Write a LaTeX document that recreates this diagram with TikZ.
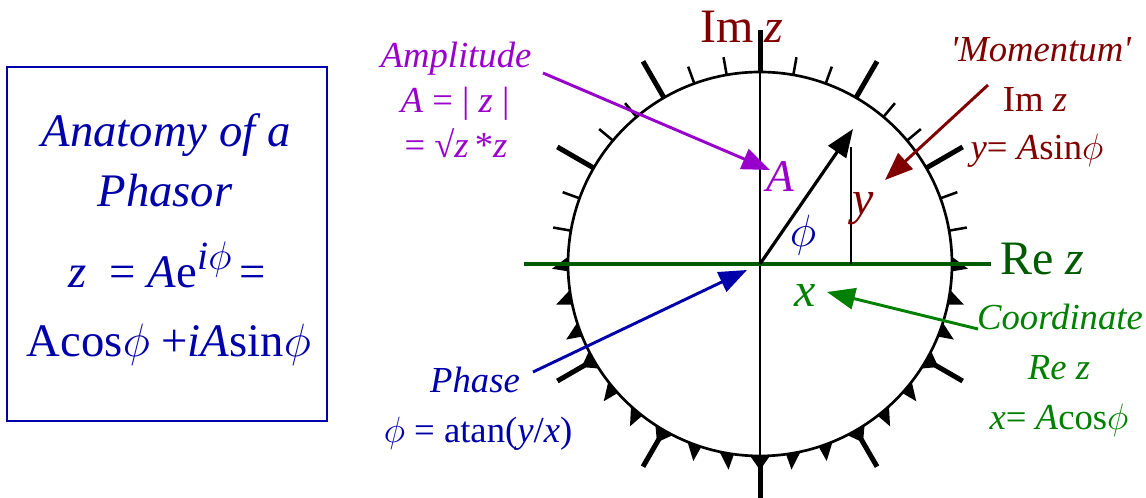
\RequirePackage{fix-cm}
\documentclass[tikz,border=0pt]{standalone}
\usepackage{fontspec}
\setmainfont{Liberation Serif}[ItalicFont={Liberation Serif Italic}, BoldFont={Liberation Serif Bold}]
\usetikzlibrary{arrows.meta,calc}
\definecolor{cblue}{RGB}{0,0,170}
\definecolor{cpurple}{RGB}{153,0,204}
\definecolor{cred}{RGB}{128,0,0}
\definecolor{cgreen}{RGB}{0,128,0}
\definecolor{caxis}{RGB}{0,90,0}
\begin{document}
\begin{tikzpicture}[x=0.75pt,y=-0.75pt,
  lbl/.style={inner sep=0pt, anchor=base, font=\fontsize{27.5}{30}\selectfont},
  big/.style={inner sep=0pt, anchor=base, font=\fontsize{36}{40}\selectfont},
  boxtxt/.style={inner sep=0pt, anchor=base, text=cblue, font=\fontsize{35}{40}\selectfont},
  pointer/.style={line width=2.2pt, -{Triangle[length=21pt,width=16pt]}},
  thintick/.style={line width=1.9pt},
  thicktick/.style={line width=3.75pt},
]
\useasboundingbox (0,0) rectangle (1146,498);
\def\R{192}
\coordinate (O) at (760,264);

% left box
\draw[cblue, line width=1.5pt] (7,67) rectangle (327,421);
\node[boxtxt] (t1) at (166,147) {\textit{Anatomy of a}};
\node[boxtxt] (t2) at (165,207) {\textit{Phasor}};
\node[boxtxt] (t3) at (167,288) {\textit{z}\ \ = \textit{A}e\raisebox{0.4em}{\fontsize{30}{30}\selectfont\textit{i}$\phi$}\,=};
\node[boxtxt] (t4) at (169,357) {Acos$\phi$ +\textit{iA}sin$\phi$};

% circle
\draw[line width=2pt] (O) circle[radius=\R];

% upper ticks
\foreach \t in {10,20,40,50,70,80,100,110,130,140,160,170}
  \draw[thintick] ($(O)+(-\t:\R)$) -- ($(O)+(-\t:{\R+18})$);
\foreach \t in {30,60,90,120,150}
  \draw[thicktick] ($(O)+(-\t:\R)$) -- ($(O)+(-\t:{\R+42})$);

% lower teeth
\foreach \t in {180,190,200,220,230,250,260}
  \fill ($(O)+({-(\t-2.2)}:\R)$) -- ($(O)+({-(\t+2.2)}:\R)$) -- ($(O)+({-(\t+1.3)}:{\R+16})$) -- cycle;
\foreach \t in {280,290,310,320,340,350,360}
  \fill ($(O)+({-(\t-2.2)}:\R)$) -- ($(O)+({-(\t+2.2)}:\R)$) -- ($(O)+({-(\t-1.3)}:{\R+16})$) -- cycle;
\foreach \t in {210,240,270,300,330}{
  \fill ($(O)+({-(\t-3)}:\R)$) -- ($(O)+({-(\t+3)}:\R)$) -- ($(O)+({-\t}:{\R+14})$) -- cycle;
  \draw[thicktick] ($(O)+(-\t:\R)$) -- ($(O)+(-\t:{\R+42})$);
}

% axes
\coordinate (vtop) at ($(O)+(0,-234)$);
\coordinate (vbot) at ($(O)+(0,234)$);
\draw[line width=1.3pt] (vtop) -- (vbot);
\coordinate (hl) at (524,264);
\coordinate (hr) at (991,264);
\draw[caxis, line width=3pt] (hl) -- (hr);

% phasor
\coordinate (tip) at (853,129);
\coordinate (ytop) at (851,147);
\coordinate (ybot) at (851,264);
\draw[line width=1.3pt] (ytop) -- (ybot);
\draw[line width=2.4pt, -{Triangle[length=21pt,width=16pt]}] (O) -- (tip);

% axis labels
\node[big, anchor=base west, text=cred] (imz) at (700,43) {Im\hspace{8pt}\textit{z}};
\node[big, anchor=base west, text=caxis] (rez) at (1000,275) {Re \textit{z}};

% in-circle labels
\node[big, text=cpurple, font=\fontsize{34}{36}\selectfont] (Alab) at (780,192) {\textit{A}};
\node[big, text=cblue, font=\fontsize{34}{36}\selectfont] (philab) at (803,247) {$\phi$};
\node[big, text=cred] (ylab) at (863,215) {\textit{y}};
\node[big, text=cgreen] (xlab) at (805,307) {\textit{x}};

% amplitude
\node[lbl, text=cpurple] (amp1) at (456,68) {\textit{Amplitude}};
\node[lbl, text=cpurple] (amp2) at (455,113) {\textit{A} = | \textit{z} |};
\node[lbl, text=cpurple] (amp3) at (456,158) {= √\textit{z}\,*\textit{z}};
\coordinate (ampS) at (543,73);
\coordinate (ampE) at (770,170);
\draw[pointer, cpurple] (ampS) -- (ampE);

% momentum
\node[lbl, text=cred] (mom1) at (1041,62) {\textit{\textquotesingle Momentum\textquotesingle}};
\node[lbl, text=cred] (mom2) at (1035,112) {Im \textit{z}};
\node[lbl, text=cred] (mom3) at (1037,160) {\textit{y}= \textit{A}sin$\phi$};
\coordinate (momS) at (988,85);
\coordinate (momE) at (885,180);
\draw[pointer, cred] (momS) -- (momE);

% coordinate
\node[lbl, text=cgreen] (co1) at (1060,330) {\textit{Coordinate}};
\node[lbl, text=cgreen] (co2) at (1059,380) {\textit{Re z}};
\node[lbl, text=cgreen] (co3) at (1059,430) {\textit{x}= \textit{A}cos$\phi$};
\coordinate (coS) at (978,329);
\coordinate (coE) at (827,292);
\draw[pointer, cgreen] (coS) -- (coE);

% phase
\node[lbl, text=cblue] (ph1) at (475,393) {\textit{Phase}};
\node[lbl, text=cblue] (ph2) at (478,443) {$\phi$ = atan(\textit{y}/\textit{x})};
\coordinate (phS) at (533,372);
\coordinate (phE) at (747,270);
\draw[pointer, cblue] (phS) -- (phE);
\end{tikzpicture}
\end{document}
